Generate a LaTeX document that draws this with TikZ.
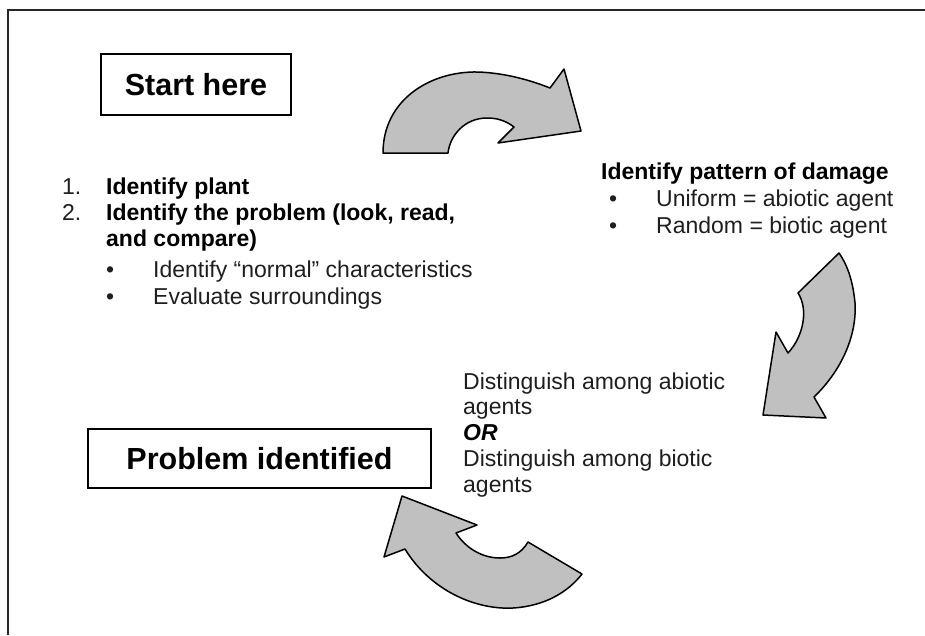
\documentclass[tikz,border=0pt]{standalone}
\usepackage{fontspec}
\setmainfont{Liberation Sans}
\definecolor{arrowgray}{RGB}{192,192,192}
\definecolor{inkgray}{RGB}{30,30,30}
\begin{document}
\begin{tikzpicture}[x=1pt,y=-1pt,
  titlebox/.style={draw, line width=1.8pt, inner sep=0pt,
    font=\fontsize{30.5}{35}\selectfont\bfseries},
  body/.style={anchor=base west, inner sep=0pt, text=inkgray,
    font=\fontsize{23}{27}\selectfont},
  bodyb/.style={anchor=base west, inner sep=0pt, text=black,
    font=\fontsize{23}{27}\selectfont\bfseries},
  bodybi/.style={anchor=base west, inner sep=0pt, text=black,
    font=\fontsize{23}{27}\selectfont\bfseries\itshape},
  bigarrow/.style={fill=arrowgray, draw=black, line width=1.5pt, line join=round},
  frameline/.style={draw=black!85, line width=2pt}]
\useasboundingbox (0,0) rectangle (925,635);

% frame (cropped on right and bottom)
\coordinate (fTR) at (925,10);
\coordinate (fTL) at (8,10);
\coordinate (fBL) at (8,635);
\draw[frameline] (fTR) -- (fTL) -- (fBL);

% title boxes
\node[titlebox, minimum width=190pt, minimum height=61pt] (start) at (196,84.5) {Start here};
\node[titlebox, minimum width=343pt, minimum height=59pt] (done) at (259.5,458.5) {Problem identified};

% left list
\node[body]  (n1) at (62,194) {1.};
\node[bodyb] (t1) at (106,194) {Identify plant};
\node[body]  (n2) at (62,220) {2.};
\node[bodyb] (t2) at (106,220) {Identify the problem (look, read,};
\node[bodyb] (t2b) at (106,246) {and compare)};
\node[body]  (b1) at (106,277) {\textbullet};
\node[body]  (s1) at (153,277) {Identify “normal” characteristics};
\node[body]  (b2) at (106,304) {\textbullet};
\node[body]  (s2) at (153,304) {Evaluate surroundings};

% right list
\node[bodyb] (p0) at (601,179) {Identify pattern of damage};
\node[body]  (pb1) at (609,206) {\textbullet};
\node[body]  (p1) at (656,206) {Uniform = abiotic agent};
\node[body]  (pb2) at (609,233) {\textbullet};
\node[body]  (p2) at (656,233) {Random = biotic agent};

% middle text
\node[body]   (d1) at (463,389) {Distinguish among abiotic};
\node[body]   (d2) at (463,414) {agents};
\node[bodybi] (d3) at (463,440) {OR};
\node[body]   (d4) at (463,466) {Distinguish among biotic};
\node[body]   (d5) at (463,492) {agents};

% top curved arrow
\draw[bigarrow] (383,153) .. controls (383,100) and (430,71) .. (478,72)
  .. controls (505,73) and (530,80) .. (550,88)
  -- (564,69) -- (581,131) -- (498,143) -- (514,127)
  .. controls (505,120) and (496,118) .. (487,118)
  .. controls (465,118) and (450,135) .. (448,153) -- cycle;

% right curved arrow
\draw[bigarrow] (839,253) -- (798,293)
  .. controls (809,310) and (803,337) .. (788,353)
  -- (776,332) -- (763,415) -- (826,418) -- (814,397)
  .. controls (842,370) and (857,335) .. (855,303)
  .. controls (853,282) and (848,266) .. (839,253) -- cycle;

% bottom curved arrow
\draw[bigarrow] (582,574) -- (528,542)
  .. controls (521,554) and (511,558) .. (500,558)
  .. controls (481,558) and (465,547) .. (456,533)
  -- (477,525) -- (402,496) -- (384,557) -- (405,549)
  .. controls (430,590) and (475,610) .. (513,608)
  .. controls (545,606) and (568,592) .. (582,574) -- cycle;
\end{tikzpicture}
\end{document}
